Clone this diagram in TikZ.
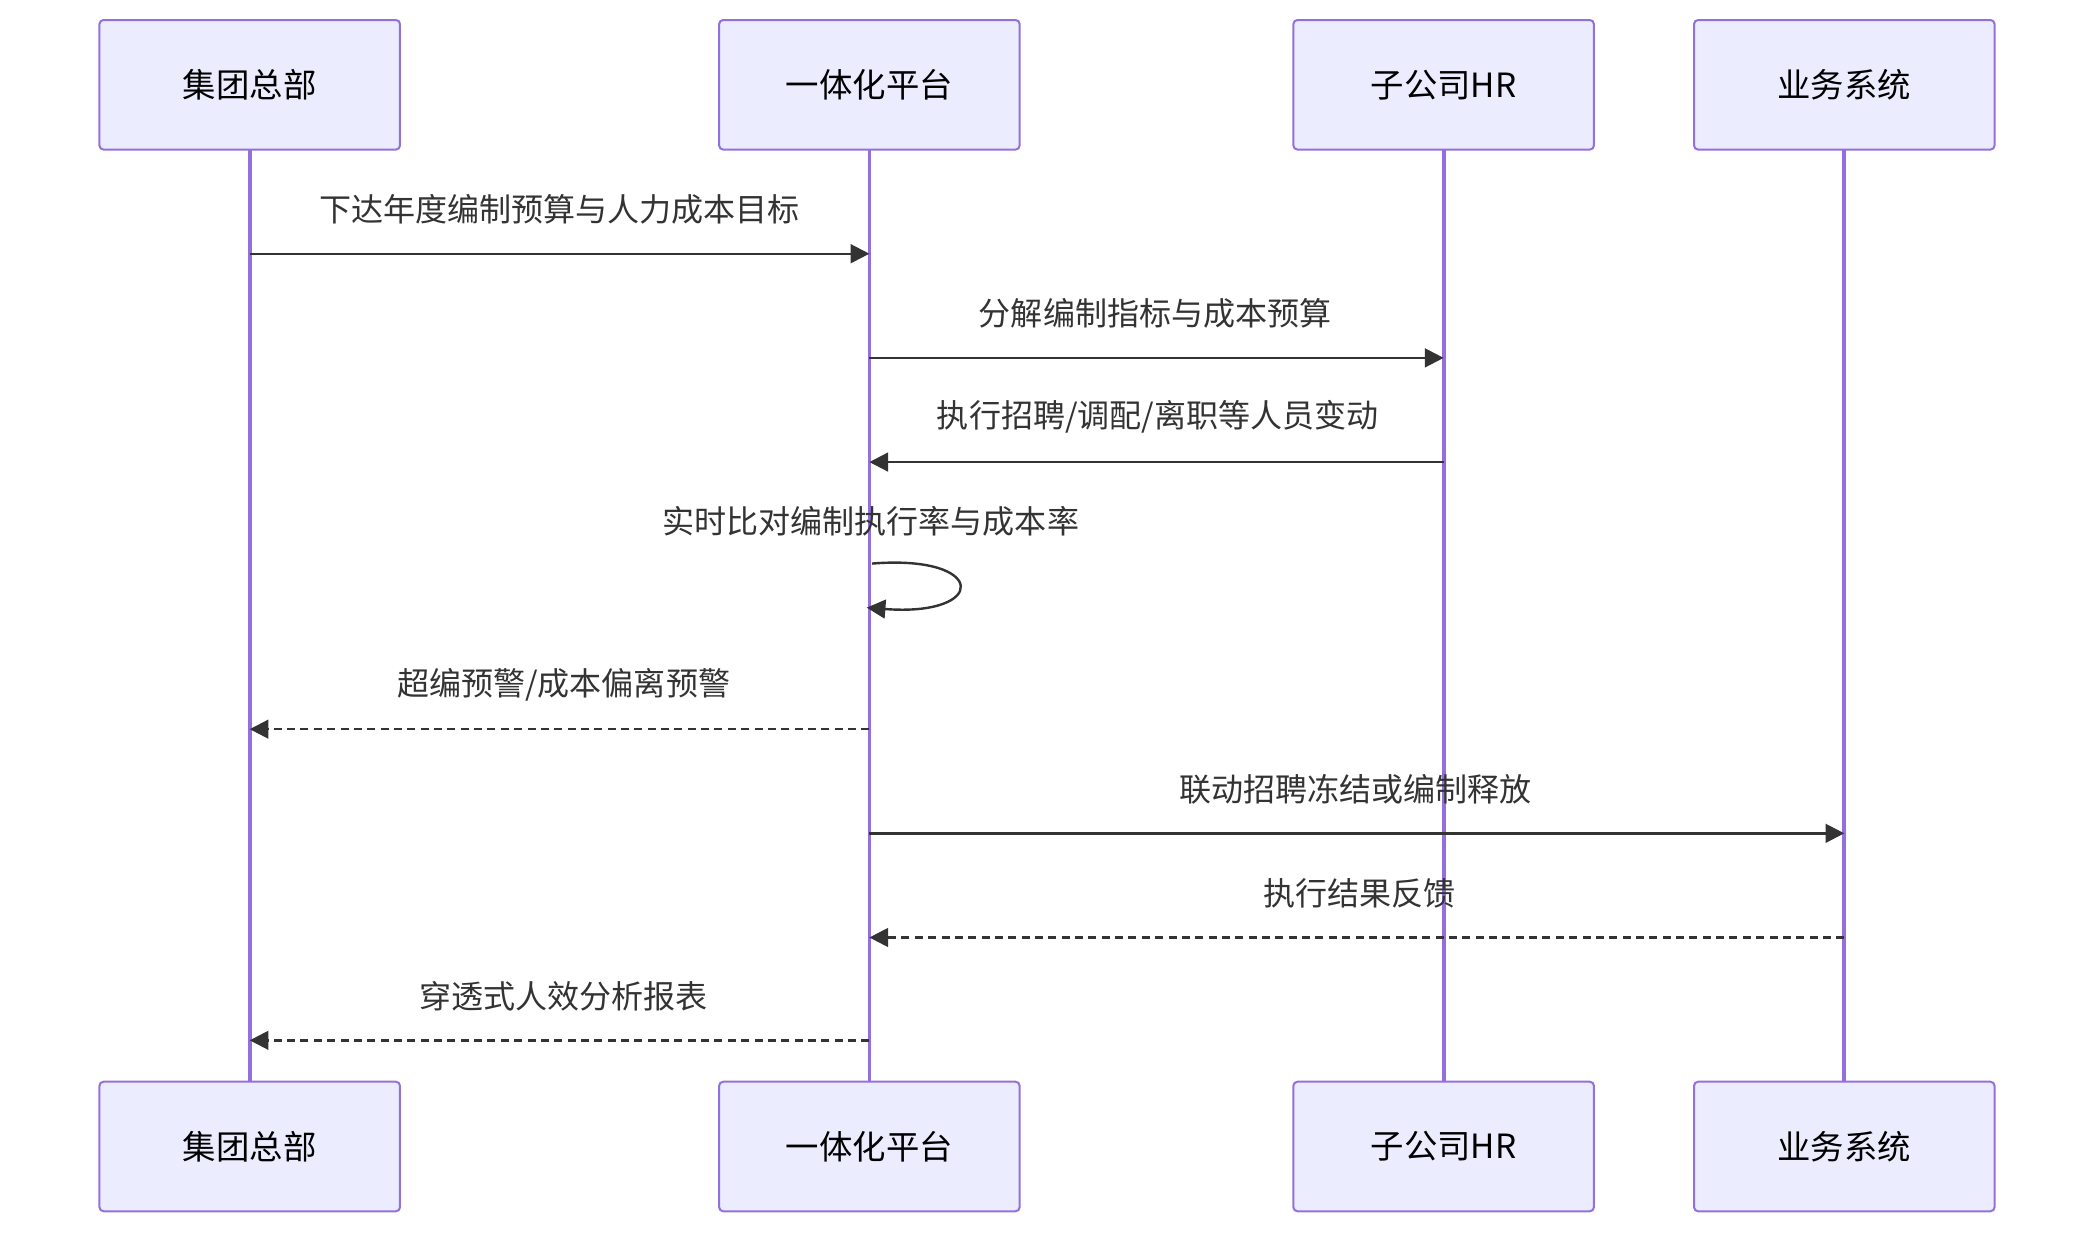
\documentclass[tikz,border=0pt]{standalone}
\usepackage{fontspec}
\setmainfont{Noto Sans CJK SC}
\usetikzlibrary{arrows.meta}
\definecolor{boxfill}{RGB}{236,236,255}
\definecolor{boxline}{RGB}{147,112,219}
\definecolor{msg}{RGB}{51,51,51}
\tikzset{every picture/.style={line width=0.75pt}}
\tikzset{
  actor/.style={draw=boxline,fill=boxfill,rounded corners=1.5pt,minimum width=112.5pt,minimum height=48.5pt,inner sep=0pt,font=\fontsize{12.5}{14}\selectfont},
  life/.style={draw=boxline,line width=1.4pt},
  call/.style={draw=msg,line width=0.9pt,-{Triangle[length=7pt,width=7pt]}},
  reply/.style={call,dash pattern=on 3pt off 2pt},
  lbl/.style={font=\fontsize{12}{13}\selectfont,text=msg,inner sep=0.75pt}
}
\begin{document}
\begin{tikzpicture}[x=0.5pt,y=0.5pt,yscale=-1,xscale=1]
\useasboundingbox (0,0) rectangle (1568,924);

% Lifelines
\draw [life] (187,112) -- (187,810) ;
\draw [life] (651,112) -- (651,810) ;
\draw [life] (1081,112) -- (1081,810) ;
\draw [life] (1381,112) -- (1381,810) ;

% Actors top
\node [actor] (hqT) at (187,63.5) {集团总部};
\node [actor] (platT) at (651,63.5) {一体化平台};
\node [actor] (hrT) at (1081,63.5) {子公司HR};
\node [actor] (bizT) at (1381,63.5) {业务系统};
% Actors bottom
\node [actor] (hqB) at (187,858.5) {集团总部};
\node [actor] (platB) at (651,858.5) {一体化平台};
\node [actor] (hrB) at (1081,858.5) {子公司HR};
\node [actor] (bizB) at (1381,858.5) {业务系统};

% Message end points
\foreach \n/\x in {hq/187,plat/651,hr/1081,biz/1381}{
  \foreach \i/\y in {1/190,2/268,3/346,5/546,6/624,7/702,8/779}{
    \coordinate (\n\i) at (\x,\y);
  }
}
\coordinate (loopA) at (653,422);
\coordinate (loopB) at (649,455);

% Messages
\draw [call] (hq1) -- (plat1) ;
\draw [call] (plat2) -- (hr2) ;
\draw [call] (hr3) -- (plat3) ;
\draw [call] (loopA) .. controls (740,415) and (740,462) .. (loopB) ;
\draw [reply] (plat5) -- (hq5) ;
\draw [call] (plat6) -- (biz6) ;
\draw [reply] (biz7) -- (plat7) ;
\draw [reply] (plat8) -- (hq8) ;

% Labels
\node [lbl] (m1) at (419,157) {下达年度编制预算与人力成本目标};
\node [lbl] (m2) at (865,235) {分解编制指标与成本预算};
\node [lbl] (m3) at (867,312) {执行招聘/调配/离职等人员变动};
\node [lbl] (m4) at (652,390) {实时比对编制执行率与成本率};
\node [lbl] (m5) at (422,513) {超编预警/成本偏离预警};
\node [lbl] (m6) at (1015,591) {联动招聘冻结或编制释放};
\node [lbl] (m7) at (1018,669) {执行结果反馈};
\node [lbl] (m8) at (422,746) {穿透式人效分析报表};

\end{tikzpicture}
\end{document}
